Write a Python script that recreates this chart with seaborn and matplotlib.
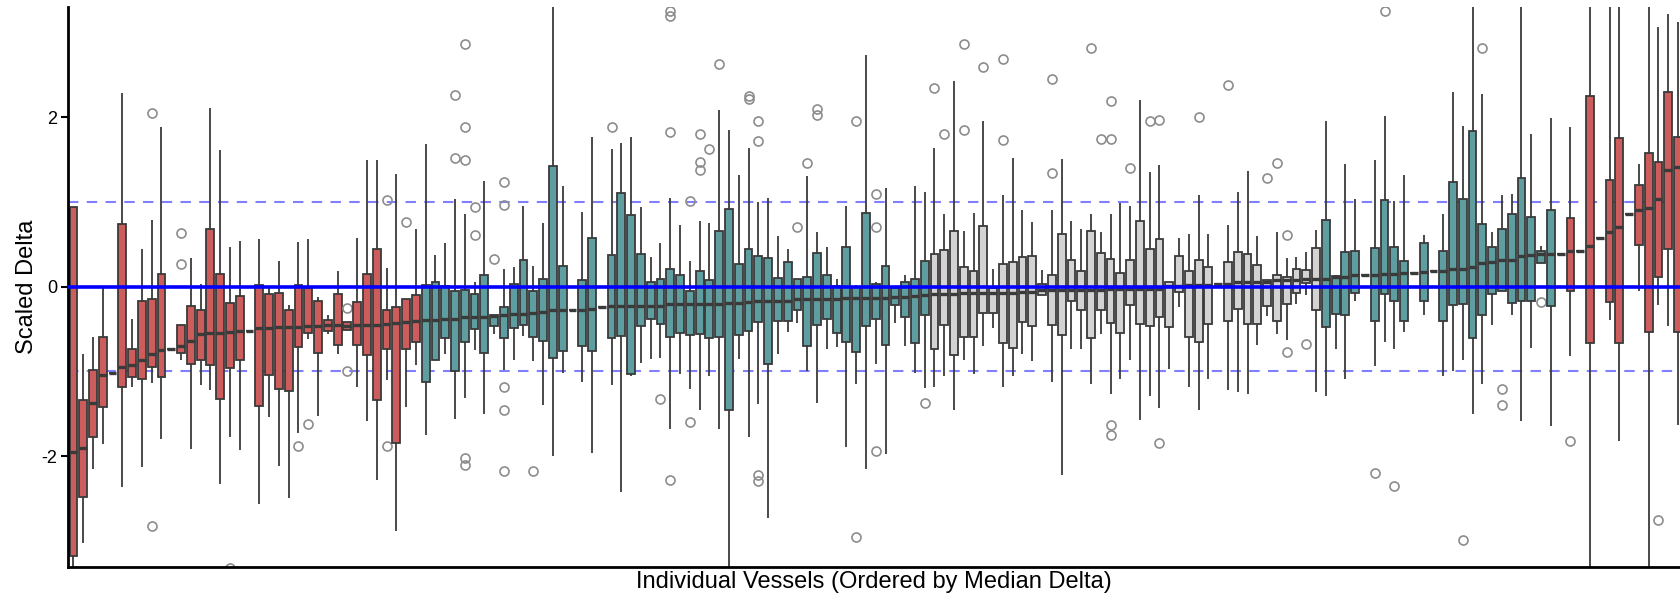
import numpy as np
import pandas as pd
import matplotlib
matplotlib.use("Agg")
import matplotlib.pyplot as plt
import seaborn as sns

# Per-vessel box statistics, ordered by median delta
group = (["R"] * 36 + ["T"] * 52 + ["G"] * 40 + ["T"] * 24 + ["R"] * 13)

whisker_low = [
    -3.6, -3.03, -2.15, -1.86, -1.02, -2.37, -1.18, -2.13, -1.14, -1.80,
    -0.73, -0.87, -1.92, -1.16, -1.22, -2.33, -1.78, -1.93, -0.52, -2.56,
    -1.54, -2.12, -2.49, -1.73, -0.62, -1.53, -0.56, -0.79, -0.51, -1.18,
    -1.58, -2.28, -1.10, -2.88, -1.42, -0.92, -1.75, -0.86, -0.80, -1.56,
    -1.31, -0.75, -1.50, -0.56, -0.98, -0.87, -0.58, -0.88, -1.40, -2.00,
    -1.02, -0.27, -1.13, -1.96, -0.24, -1.16, -2.42, -1.05, -0.90, -0.85,
    -0.84, -1.68, -1.03, -1.21, -1.46, -1.05, -1.68, -3.40, -0.85, -1.77,
    -1.39, -2.73, -0.79, -0.54, -0.43, -0.99, -1.37, -0.74, -0.71, -1.89,
    -1.15, -2.15, -0.91, -1.97, -0.43, -0.70, -1.02, -1.20, -1.18, -1.06,
    -1.45, -0.86, -1.03, -0.70, -0.49, -1.19, -1.06, -0.79, -0.88, -0.10,
    -1.12, -2.22, -0.73, -0.73, -1.15, -0.56, -1.27, -1.09, -0.87, -1.57,
    -1.29, -1.43, -0.97, -0.24, -1.19, -1.46, -1.09, 0.03, -1.22, -1.24,
    -1.27, -0.69, -0.35, -0.56, -0.63, -0.20, -0.10, -1.24, -1.29, -0.73,
    -1.09, -0.17, 0.14, -0.94, -0.65, -0.74, -0.53, 0.16, -0.34, 0.18,
    -1.06, -1.00, -0.87, -1.50, -1.15, -0.45, -0.05, -0.34, -1.58, -0.72,
    0.28, -1.64, 0.39, -0.82, 0.42, -3.50, 0.58, -0.39, -1.82, 0.86,
    -0.05, -3.50, -0.22, -0.47, -1.63,
]

q1 = [
    -3.18, -2.48, -1.77, -1.42, -1.02, -1.19, -1.07, -1.09, -0.95, -1.07,
    -0.73, -0.78, -0.91, -0.86, -0.93, -1.33, -0.96, -0.86, -0.52, -1.41,
    -1.04, -1.21, -1.23, -0.71, -0.55, -0.78, -0.52, -0.69, -0.51, -0.69,
    -0.81, -1.34, -0.73, -1.85, -0.74, -0.65, -1.12, -0.86, -0.60, -0.99,
    -0.65, -0.50, -0.78, -0.46, -0.61, -0.49, -0.45, -0.59, -0.64, -0.84,
    -0.76, -0.27, -0.70, -0.76, -0.24, -0.60, -0.58, -1.03, -0.47, -0.38,
    -0.44, -0.59, -0.55, -0.57, -0.56, -0.61, -0.59, -1.46, -0.57, -0.52,
    -0.42, -0.91, -0.41, -0.40, -0.27, -0.70, -0.45, -0.38, -0.55, -0.65,
    -0.77, -0.47, -0.38, -0.69, -0.22, -0.36, -0.66, -0.33, -0.73, -0.45,
    -0.81, -0.59, -0.59, -0.31, -0.31, -0.67, -0.72, -0.42, -0.47, -0.10,
    -0.45, -0.57, -0.17, -0.27, -0.61, -0.27, -0.43, -0.55, -0.22, -0.44,
    -0.47, -0.36, -0.48, -0.06, -0.59, -0.65, -0.44, 0.03, -0.40, -0.26,
    -0.44, -0.44, -0.23, -0.40, -0.20, -0.07, 0.04, -0.28, -0.48, -0.32,
    -0.34, -0.07, 0.14, -0.40, -0.09, -0.17, -0.41, 0.16, -0.17, 0.18,
    -0.41, -0.22, -0.21, -0.60, -0.33, -0.09, -0.05, -0.19, -0.17, -0.17,
    0.28, -0.23, 0.39, -0.05, 0.42, -0.67, 0.58, -0.18, -0.66, 0.86,
    0.49, -0.53, 0.11, 0.45, -0.53,
]

median = [
    -1.95, -1.91, -1.37, -1.04, -1.02, -0.95, -0.92, -0.86, -0.79, -0.75,
    -0.73, -0.70, -0.64, -0.56, -0.55, -0.55, -0.53, -0.52, -0.52, -0.49,
    -0.49, -0.48, -0.48, -0.48, -0.47, -0.46, -0.45, -0.45, -0.46, -0.45,
    -0.45, -0.45, -0.44, -0.43, -0.42, -0.41, -0.39, -0.39, -0.38, -0.38,
    -0.36, -0.36, -0.36, -0.35, -0.34, -0.32, -0.32, -0.31, -0.30, -0.28,
    -0.28, -0.27, -0.27, -0.26, -0.24, -0.23, -0.23, -0.23, -0.23, -0.23,
    -0.23, -0.21, -0.20, -0.20, -0.20, -0.20, -0.20, -0.19, -0.19, -0.18,
    -0.17, -0.17, -0.17, -0.17, -0.15, -0.15, -0.14, -0.14, -0.14, -0.13,
    -0.13, -0.13, -0.13, -0.13, -0.12, -0.12, -0.11, -0.10, -0.09, -0.09,
    -0.09, -0.08, -0.08, -0.08, -0.08, -0.08, -0.08, -0.06, -0.06, -0.04,
    -0.04, -0.04, -0.04, -0.04, -0.04, -0.04, -0.03, -0.03, -0.03, -0.03,
    -0.03, -0.03, 0.01, 0.01, 0.02, 0.02, 0.02, 0.03, 0.03, 0.05,
    0.05, 0.05, 0.05, 0.08, 0.08, 0.08, 0.09, 0.09, 0.09, 0.11,
    0.12, 0.14, 0.14, 0.14, 0.15, 0.15, 0.16, 0.16, 0.17, 0.18,
    0.18, 0.21, 0.21, 0.23, 0.28, 0.29, 0.32, 0.32, 0.36, 0.37,
    0.39, 0.39, 0.39, 0.42, 0.42, 0.48, 0.58, 0.64, 0.71, 0.86,
    0.90, 0.93, 1.03, 1.38, 1.41,
]

q3 = [
    0.94, -1.34, -0.98, -0.59, -1.02, 0.74, -0.73, -0.17, -0.14, 0.15,
    -0.73, -0.45, -0.23, -0.27, 0.68, 0.15, -0.19, -0.11, -0.52, 0.02,
    -0.09, -0.07, -0.27, 0.02, -0.02, -0.17, -0.39, -0.09, -0.42, -0.18,
    0.15, 0.44, -0.27, -0.24, -0.14, -0.10, 0.02, 0.05, 0.01, -0.05,
    -0.04, -0.09, 0.14, -0.33, -0.24, 0.03, 0.32, -0.05, 0.09, 1.42,
    0.25, -0.27, 0.08, 0.57, -0.24, 0.37, 1.10, 0.85, 0.38, 0.05,
    0.09, 0.21, 0.14, -0.05, 0.18, 0.08, 0.66, 0.92, 0.27, 0.44,
    0.36, 0.34, 0.10, 0.29, 0.09, 0.12, 0.40, 0.14, 0.01, 0.47,
    0.00, 0.87, 0.03, 0.24, -0.02, 0.05, 0.09, 0.30, 0.38, 0.43,
    0.66, 0.23, 0.19, 0.72, -0.01, 0.27, 0.29, 0.35, 0.36, 0.03,
    0.14, 0.62, 0.31, 0.18, 0.66, 0.40, 0.33, 0.16, 0.32, 0.78,
    0.44, 0.56, 0.06, 0.36, 0.18, 0.32, 0.23, 0.03, 0.29, 0.41,
    0.39, 0.26, 0.08, 0.14, 0.11, 0.21, 0.20, 0.46, 0.79, 0.13,
    0.41, 0.42, 0.14, 0.46, 1.02, 0.47, 0.30, 0.16, 0.52, 0.18,
    0.42, 1.24, 1.04, 1.84, 0.74, 0.47, 0.68, 0.86, 1.28, 0.82,
    0.42, 0.90, 0.39, 0.81, 0.42, 2.25, 0.58, 1.26, 1.75, 0.86,
    1.20, 1.58, 1.47, 2.30, 1.77,
]

whisker_high = [
    0.94, -0.79, -0.59, -0.02, -1.02, 2.29, -0.38, 0.45, 0.79, 1.89,
    -0.73, -0.45, 0.34, 0.03, 2.11, 1.61, 0.47, 0.54, -0.52, 0.56,
    0.00, 0.30, -0.22, 0.53, 0.56, -0.12, -0.34, 0.19, -0.42, 0.57,
    1.49, 1.50, 0.22, 1.33, 0.76, 0.68, 1.69, 0.37, 0.52, 1.03,
    0.86, 0.05, 1.25, -0.33, 0.21, 0.23, 0.95, 0.24, 0.75, 3.50,
    1.19, -0.27, 0.88, 1.77, -0.24, 1.63, 1.70, 1.77, 0.94, 0.35,
    0.52, 1.05, 0.73, 0.30, 0.77, 0.75, 2.09, 1.85, 1.32, 1.64,
    1.00, 1.05, 0.60, 0.45, 0.09, 1.31, 0.64, 0.47, 0.09, 0.95,
    0.02, 2.74, 0.05, 1.17, -0.02, 0.14, 1.19, 1.12, 1.64, 0.86,
    2.43, 0.66, 0.87, 1.96, 0.21, 1.08, 1.52, 0.91, 0.76, 0.20,
    0.91, 1.51, 0.78, 0.68, 0.86, 0.65, 0.86, 0.99, 0.95, 2.20,
    1.35, 1.44, 0.06, 0.57, 0.62, 1.08, 0.62, 0.03, 0.73, 1.12,
    1.37, 0.60, 0.08, 0.65, 0.34, 0.35, 0.41, 0.67, 1.95, 0.14,
    1.45, 1.03, 0.14, 1.50, 2.02, 1.01, 1.32, 0.16, 0.61, 0.18,
    0.86, 2.30, 1.90, 3.50, 2.28, 0.65, 1.08, 1.09, 3.40, 1.80,
    0.48, 1.99, 0.39, 1.89, 0.42, 3.50, 0.58, 3.40, 3.50, 0.86,
    1.45, 3.50, 3.07, 3.22, 3.12,
]

# Outlying observations as (vessel position, value)
outliers = [
    (8, 2.05), (8, -2.82), (11, 0.63), (11, 0.27), (16, -3.32),
    (23, -1.88), (24, -1.62), (28, -0.25), (28, -1.00), (32, 1.02),
    (32, -1.88), (39, 2.26), (39, 1.52), (40, 2.87), (40, 1.89),
    (40, 1.50), (40, -2.02), (40, -2.11), (41, 0.94), (41, 0.61),
    (43, 0.33), (44, 1.24), (44, 0.97), (44, -1.19), (44, -1.46),
    (44, -2.18), (47, -2.18), (55, 1.88), (60, -1.33), (61, 3.25),
    (61, 3.20), (61, 1.82), (61, -2.28), (63, 1.01), (63, -1.60),
    (64, 1.80), (64, 1.47), (64, 1.38), (65, 1.62), (66, 2.63),
    (69, 2.25), (69, 2.21), (70, 1.95), (70, 1.72), (70, -2.22),
    (70, -2.29), (74, 0.70), (75, 1.46), (76, 2.10), (76, 2.03),
    (80, 1.95), (80, -2.96), (82, 1.09), (82, 0.70), (82, -1.94),
    (87, -1.37), (88, 2.34), (89, 1.80), (91, 2.86), (91, 1.85),
    (93, 2.59), (95, 2.69), (95, 1.73), (100, 2.45), (100, 1.34),
    (104, 2.82), (105, 1.74), (106, 2.19), (106, 1.74), (106, -1.63),
    (106, -1.75), (108, 1.40), (110, 1.96), (111, 1.97), (111, -1.84),
    (115, 2.00), (118, 2.38), (122, 1.28), (123, 1.46), (124, 0.61),
    (124, -0.77), (126, -0.68), (133, -2.20), (134, 3.26), (135, -2.35),
    (142, -2.99), (144, 2.82), (146, -1.21), (146, -1.40), (150, -0.18),
    (153, -1.82), (162, -2.76),
]

palette_by_group = {"R": "#cd5c5c", "T": "#5f9ea0", "G": "#d3d3d3"}

n_vessels = len(median)
names = [f"V{i:03d}" for i in range(n_vessels)]


def vessel_sample(lo, a, m, b, hi, extra):
    """17 observations whose quartiles, whiskers and fliers are the given ones."""
    low = sorted(v for v in extra if v < lo)
    high = sorted(v for v in extra if v > hi)
    bottom = low + [lo]
    bottom = bottom + [a] * (4 - len(bottom))
    top = [hi] + high
    top = [b] * (4 - len(top)) + top
    return bottom + [a, m, m, m, m, m, m, m, b] + top


rows = []
for i in range(n_vessels):
    extra = [v for j, v in outliers if j == i]
    vals = vessel_sample(whisker_low[i], q1[i], median[i], q3[i],
                         whisker_high[i], extra)
    rows += [(names[i], group[i], v) for v in vals]
df = pd.DataFrame(rows, columns=["vessel", "group", "delta"])

sns.set_theme(style="white")
plt.rcParams["font.family"] = ["Liberation Sans", "DejaVu Sans"]
plt.rcParams["axes.unicode_minus"] = False

fig = plt.figure(figsize=(16.8, 5.98), dpi=100)
ax = fig.add_axes([0.0405, 0.0524, 0.9595, 0.9364])

ax.axhline(1, color="blue", ls=(0, (5, 4)), lw=1.5, alpha=0.5, zorder=0.5)
ax.axhline(-1, color="blue", ls=(0, (5, 4)), lw=1.5, alpha=0.5, zorder=0.5)

sns.boxplot(
    data=df, x="vessel", y="delta", hue="vessel", order=names,
    palette={n: palette_by_group[g] for n, g in zip(names, group)},
    legend=False, width=0.8, saturation=1, linecolor="#3a3a3a",
    linewidth=1.3, showcaps=False, ax=ax,
    medianprops={"linewidth": 2.4},
    flierprops={"marker": "o", "markerfacecolor": "none",
                "markeredgecolor": "#8c8c8c", "markersize": 6.5,
                "markeredgewidth": 1.2},
)

ax.axhline(0, color="blue", lw=2.6, zorder=5)

ax.set_xlim(-0.55, 164.2)
ax.set_ylim(-3.305, 3.305)
ax.set_yticks([-2, 0, 2])
ax.set_xticks([])
ax.tick_params(axis="y", left=True, length=5, width=1.5, labelsize=13,
               color="black", labelcolor="black", pad=3)
for side in ("top", "right"):
    ax.spines[side].set_visible(False)
for side in ("left", "bottom"):
    ax.spines[side].set_color("black")
    ax.spines[side].set_linewidth(2)

ax.set_xlabel("Individual Vessels (Ordered by Median Delta)", fontsize=17,
              color="black", labelpad=3)
ax.set_ylabel("Scaled Delta", fontsize=17, color="black", labelpad=2)

fig.savefig("out.png", dpi=100)
